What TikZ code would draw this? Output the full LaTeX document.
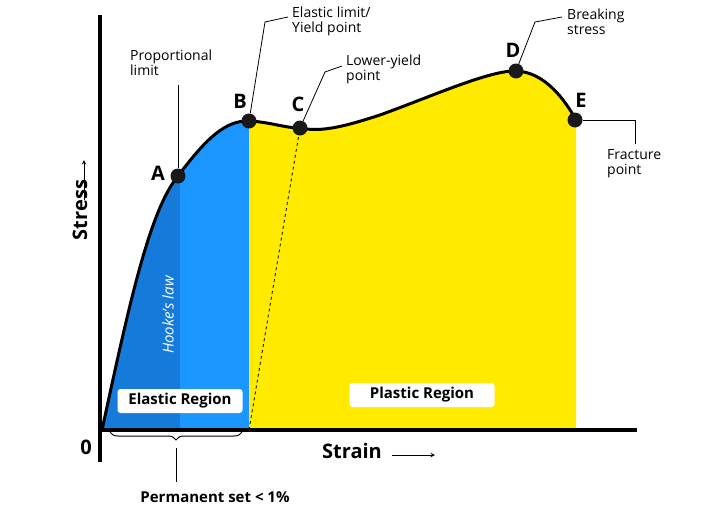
\documentclass[tikz,border=0pt]{standalone}
\usepackage{fontspec}
\setmainfont{Open Sans}
\usetikzlibrary{decorations.pathreplacing}
\definecolor{lblue}{RGB}{28,150,255}
\definecolor{dblue}{RGB}{22,122,218}
\definecolor{yel}{RGB}{255,234,0}
\tikzset{pt/.style={circle,fill=black!90,inner sep=0pt,minimum size=15pt},
lbl/.style={font=\bfseries\fontsize{20}{20}\selectfont},
note/.style={font=\fontsize{14}{15}\selectfont,align=left,anchor=north west,inner sep=0pt},
reg/.style={fill=white,rounded corners=3pt,font=\bfseries\fontsize{15}{15}\selectfont,minimum height=24pt},
lead/.style={black,line width=0.8pt}}
\begin{document}
\begin{tikzpicture}[x=1pt,y=-1pt]
\useasboundingbox (0,0) rectangle (727,517);
\def\curve{(102,430) .. controls (130,300) and (150,210) .. (178,176) .. controls (205,140) and (225,120) .. (249,121) .. controls (270,122) and (285,128) .. (300,128) .. controls (320,132) and (340,128) .. (380,115) .. controls (430,97) and (490,70) .. (516,71) .. controls (545,72) and (565,100) .. (576,120)}
\begin{scope}
\clip \curve -- (576,430) -- cycle;
\fill[dblue] (100,0) rectangle (180,430);
\fill[lblue] (180,0) rectangle (249,430);
\fill[yel] (249,0) rectangle (580,430);
\end{scope}
\draw[line width=3pt] \curve;
\draw[dashed,line width=0.8pt] (249,430) -- (300,128);
\draw[line width=3.5pt] (100,15) -- (100,462);
\draw[line width=3.5pt] (98,430) -- (637,430);
\node[lbl] (zero) at (86,447) {0};
\node[lbl,rotate=90] (stress) at (80,210) {Stress};
\coordinate (s1) at (84,162); \coordinate (s2) at (84,205);
\draw[-stealth,line width=1pt] (84,200) -- (84,160);
\node[lbl] (strain) at (352,451) {Strain};
\draw[-stealth,line width=1pt] (392,455) -- (435,455);
\node[text=white,rotate=90,font=\itshape\fontsize{15}{15}\selectfont] (hooke) at (168,315) {Hooke's law};
\node[reg,minimum width=125pt] (er) at (180,401) {Elastic Region};
\node[reg,minimum width=145pt] (pr) at (422,395) {Plastic Region};
\draw[line width=1pt,decorate,decoration={brace,mirror,amplitude=8pt}] (110,432) -- (242,432);
\coordinate (bt) at (176,448);
\node[font=\bfseries\fontsize{15}{15}\selectfont] (perm) at (215,497) {Permanent set < 1\%};
\draw[lead] (bt) -- (176,482);
\node[pt] (A) at (178,176) {};
\node[pt] (B) at (249,121) {};
\node[pt] (C) at (300,128) {};
\node[pt] (D) at (516,71) {};
\node[pt] (E) at (575,120) {};
\node[lbl] at (158,173) {A};
\node[lbl] at (240,101) {B};
\node[lbl] at (298,104) {C};
\node[lbl] at (513,50) {D};
\node[lbl] at (581,100) {E};
\node[note] (nA) at (130,50) {Proportional\\limit};
\node[note] (nB) at (292,7) {Elastic limit/\\Yield point};
\node[note] (nC) at (346,55) {Lower-yield\\point};
\node[note] (nD) at (567,9) {Breaking\\stress};
\node[note] (nE) at (607,149) {Fracture\\point};
\draw[lead] (A) -- (178,85);
\draw[lead] (B) -- (265,22) -- (288,17);
\draw[lead] (C) -- (325,72) -- (342,66);
\draw[lead] (D) -- (535,22) -- (562,17);
\draw[lead] (E) -- (635,120) -- (635,144);
\end{tikzpicture}
\end{document}
